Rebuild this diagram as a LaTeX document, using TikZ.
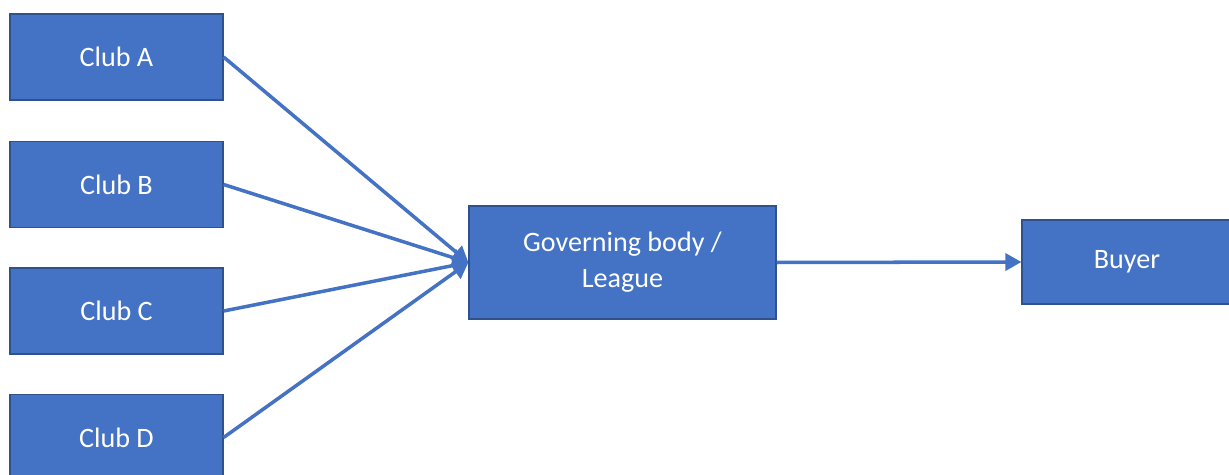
\documentclass[tikz,border=0pt]{standalone}
\usepackage{fontspec}
\setmainfont{Carlito}
\usepackage{xcolor}
\usepackage{tikz}
\usetikzlibrary{arrows.meta}
\definecolor{boxfill}{RGB}{68,114,196}
\definecolor{boxline}{RGB}{47,82,143}

\begin{document}
\begin{tikzpicture}[x=0.02cm,y=-0.02cm,>={Triangle[length=3.2mm,width=3.4mm]},
  blk/.style={draw=boxline,fill=boxfill,line width=0.7pt,text=white,font=\fontsize{16}{20.5}\selectfont,align=center,inner sep=0pt},
  club/.style={blk,minimum width=4.26cm,minimum height=1.72cm},
  flow/.style={->,draw=boxfill,line width=2pt}]
  \useasboundingbox (0,0) rectangle (1229,475);
  \node[club] (ca) at (116.5,57) {Club A};
  \node[club] (cb) at (116.5,184.5) {Club B};
  \node[club] (cc) at (116.5,311) {Club C};
  \node[club] (cd) at (116.5,437.5) {Club D};
  \node[blk,minimum width=6.14cm,minimum height=2.26cm] (gov) at (622.5,262.5) {Governing body /\\League};
  \node[blk,minimum width=4.2cm,minimum height=1.68cm] (buyer) at (1127,262) {Buyer};
  \draw[flow] (ca.east) -- (gov.west);
  \draw[flow] (cb.east) -- (gov.west);
  \draw[flow] (cc.east) -- (gov.west);
  \draw[flow] (cd.east) -- (gov.west);
  \draw[flow] (gov.east) -- (buyer.west);
\end{tikzpicture}
\end{document}
